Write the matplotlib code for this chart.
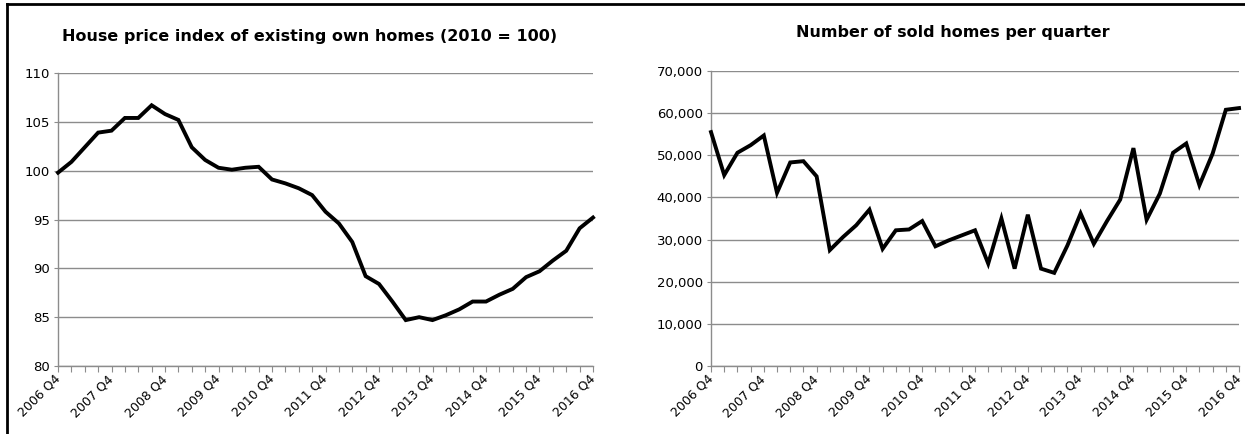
import numpy as np
import matplotlib
matplotlib.use("Agg")
from matplotlib import pyplot as plt
from matplotlib.ticker import FuncFormatter
from matplotlib.transforms import ScaledTranslation

# quarters 2006 Q4 .. 2016 Q4
quarters = ["2006 Q4"] + [f"{y} Q{q}" for y in range(2007, 2017) for q in range(1, 5)]

price_index = [99.8, 100.9, 102.4, 103.9, 104.1, 105.4, 105.4, 106.7, 105.8, 105.2,
               102.4, 101.1, 100.3, 100.1, 100.3, 100.4, 99.1, 98.7, 98.2, 97.5,
               95.8, 94.6, 92.7, 89.2, 88.4, 86.6, 84.7, 85.0, 84.7, 85.2,
               85.8, 86.6, 86.6, 87.3, 87.9, 89.1, 89.7, 90.8, 91.8, 94.1, 95.2]

sold_homes = [55500, 45300, 50600, 52400, 54700, 41100, 48300, 48600, 45000, 27500,
              30600, 33400, 37100, 27800, 32200, 32400, 34400, 28400, 29800, 31000,
              32200, 24300, 35000, 23100, 35900, 23100, 22100, 28600, 36200, 29000,
              34400, 39500, 51700, 34700, 40900, 50600, 52800, 42900, 50400, 60800, 61200]

titles = ["House price index of existing own homes (2010 = 100)",
          "Number of sold homes per quarter"]

grey = "#8c8c8c"

fig = plt.figure(figsize=(12.45, 4.34), dpi=100)
ax1 = fig.add_axes([0.0466, 0.1567, 0.4297, 0.675])
ax2 = fig.add_axes([0.5711, 0.1567, 0.4241, 0.6797])

x = np.arange(len(quarters))
shift = ScaledTranslation(-4 / 100, 0, fig.dpi_scale_trans)

def style(ax, y, ylim, yticks):
    ax.plot(x, y, color="black", lw=2.8, solid_joinstyle="miter", clip_on=False, zorder=3)
    ax.set_xlim(0, len(quarters) - 1)
    ax.set_ylim(*ylim)
    ax.set_yticks(yticks)
    ax.grid(axis="y", color=grey, lw=1.0)
    ax.set_axisbelow(True)
    for s in ["top", "right"]:
        ax.spines[s].set_visible(False)
    for s in ["left", "bottom"]:
        ax.spines[s].set_color(grey)
        ax.spines[s].set_linewidth(1.0)
    ax.set_xticks(x)
    ax.set_xticklabels([q if i % 4 == 0 else "" for i, q in enumerate(quarters)],
                       rotation=45, ha="right", va="center", rotation_mode="anchor", fontsize=9)
    for lbl in ax.get_xticklabels():
        lbl.set_transform(lbl.get_transform() + shift)
    ax.tick_params(axis="x", length=4, color=grey, pad=4)
    ax.tick_params(axis="y", length=3, color=grey, labelsize=9.5, pad=3)

style(ax1, price_index, (80, 110), range(80, 111, 5))
style(ax2, sold_homes, (0, 70000), range(0, 70001, 10000))
ax2.yaxis.set_major_formatter(FuncFormatter(lambda v, p: f"{int(v):,}"))

fig.text(0.249, 0.915, titles[0], ha="center", va="center", fontsize=11.5, fontweight="bold")
fig.text(0.7655, 0.926, titles[1], ha="center", va="center", fontsize=11.5, fontweight="bold")

# outer frame lines (top and left)
fig.add_artist(plt.Line2D([0.0056, 1.0], [0.990, 0.990], color="black", lw=2, transform=fig.transFigure))
fig.add_artist(plt.Line2D([0.0056, 0.0056], [0.0, 0.990], color="black", lw=2, transform=fig.transFigure))

plt.savefig("out.png", dpi=100)
